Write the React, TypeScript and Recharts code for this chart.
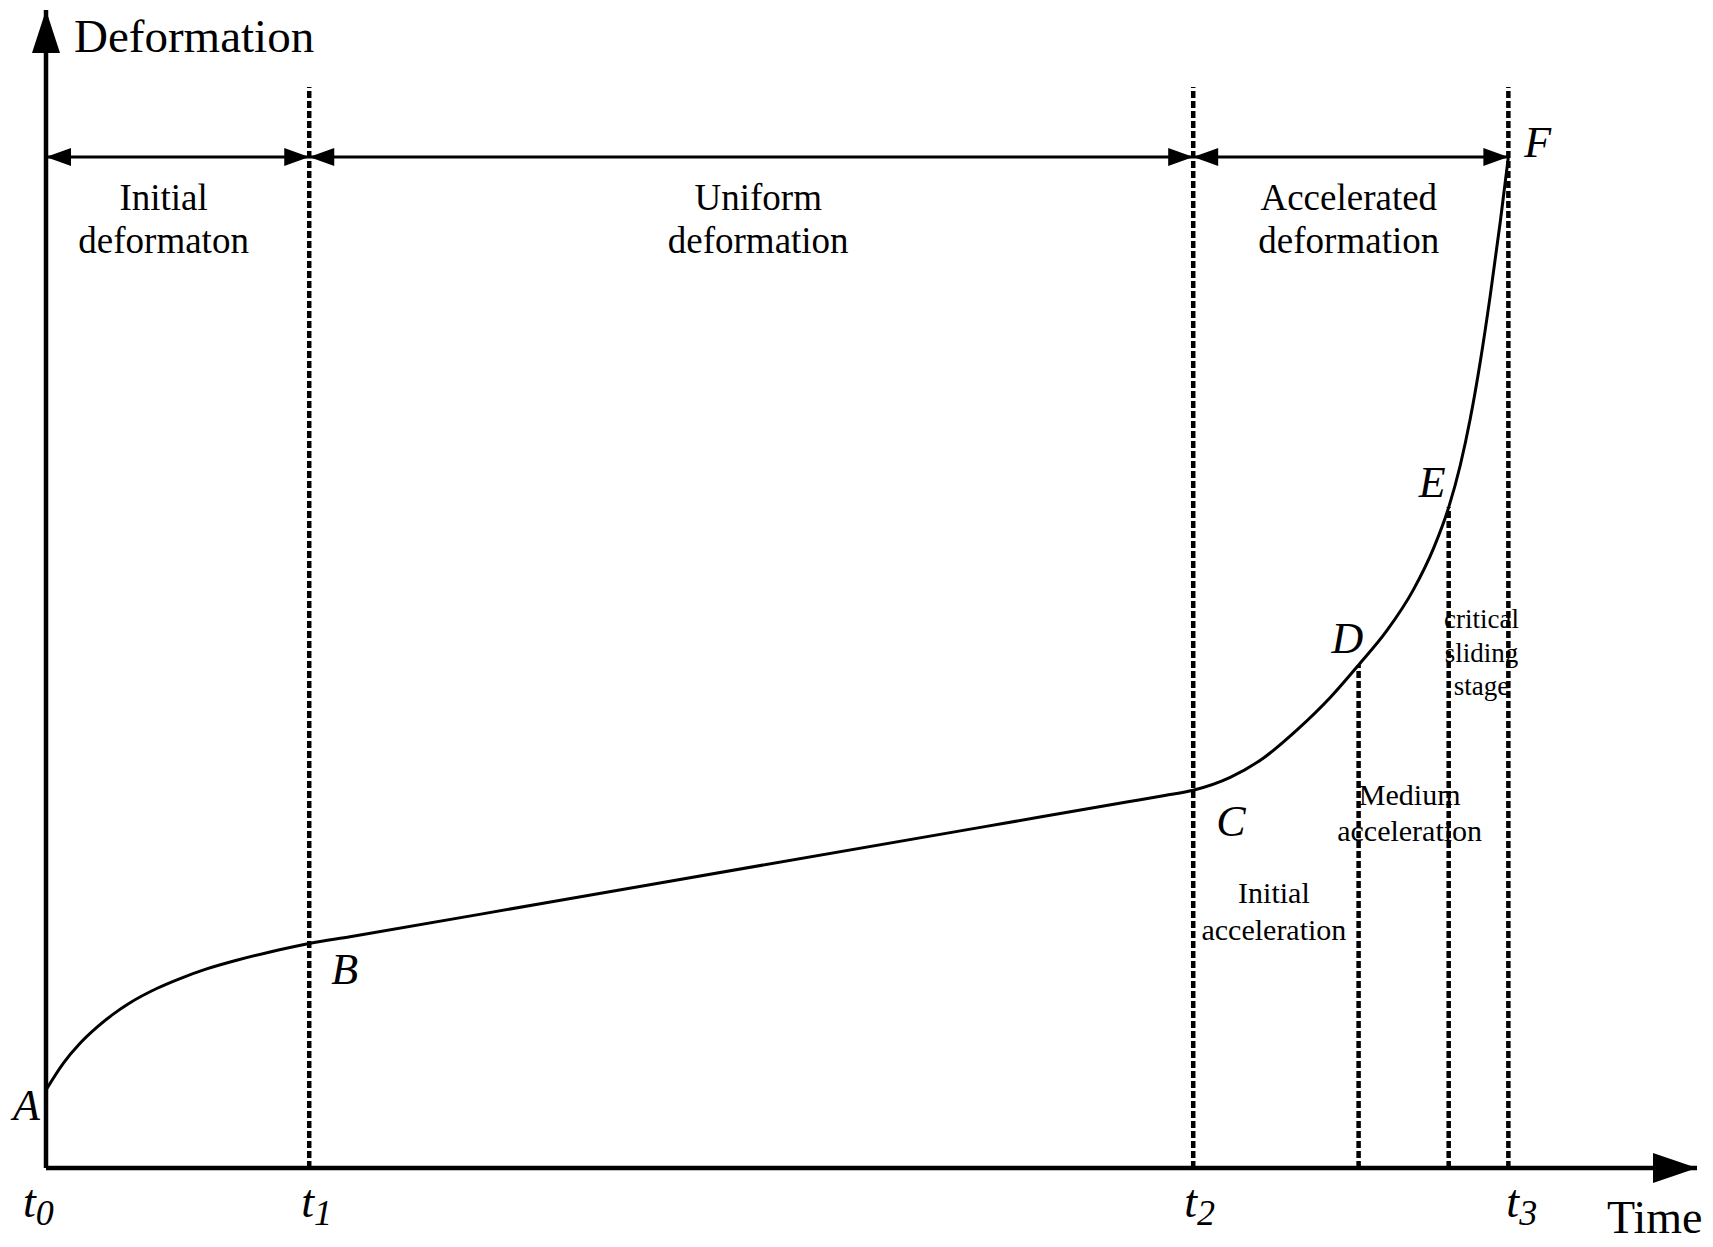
import React from 'react';
import { LineChart, Line, XAxis, YAxis, ReferenceLine, ReferenceDot } from 'recharts';

// ---- data (time in arbitrary units, t3 = 100; deformation in arbitrary units) ----
const timeValues = [
  0, 1.18, 2.33, 3.47, 4.6, 5.75, 7.57, 9.17, 10.99, 13.04, 15.32, 18.0, 20.79,
  34.2, 64.1, 74.0, 76.5, 78.45, 80.98, 83.26, 85.55, 87.82, 89.76, 91.7, 93.52, 94.89,
  95.92, 96.72, 97.4, 98.09, 98.77, 99.45, 100,
];
const deformationValues = [
  6.74, 9.04, 10.77, 12.14, 13.29, 14.27, 15.5, 16.36, 17.19, 17.94, 18.66, 19.39, 19.97,
  22.91, 29.46, 31.62, 32.17, 32.62, 33.73, 35.41, 37.83, 40.63, 43.44, 46.42, 49.97, 53.53,
  57.05, 60.73, 64.74, 69.71, 75.42, 81.74, 87.3,
];
const stageBoundaries = [0, 18, 78.45, 100];
const stageTickLabels = ['0', '1', '2', '3'];
const accelBoundaries = [78.45, 89.76, 95.92, 100];
const pointNames = ['A', 'B', 'C', 'D', 'E', 'F'];
const pointTimes = [0, 18, 78.45, 89.76, 95.92, 100];
const pointDeformations = [6.74, 19.39, 32.62, 43.44, 57.05, 87.3];
const stageNames = [
  ['Initial', 'deformaton'],
  ['Uniform', 'deformation'],
  ['Accelerated', 'deformation'],
];
const accelStageNames = [
  ['Initial', 'acceleration'],
  ['Medium', 'acceleration'],
  ['critical', 'sliding', 'stage'],
];
const TIME_MAX = 112.9;
const DEF_MAX = 100;
const BOUNDARY_TOP = 93.35;
const SPAN_LEVEL = 87.3;

const curveData = timeValues.map((t, i) => ({ time: t, deformation: deformationValues[i] }));

// ---- styling ----
const FONT = '"Liberation Serif", "Times New Roman", serif';
const tickDx = [-23, -8, -9, -2];
const pointLabelOffsets = [
  [-33, 30], [22, 41], [23, 46], [-27, -12], [-30, -10], [16, 0],
];
const stageLabelDx = [-14, 7, -2];
const accelLabelStyle = [
  { dx: -2, dy: -265, lh: 37, size: 30 },
  { dx: 6, dy: -363, lh: 36, size: 30 },
  { dx: 3, dy: -540, lh: 33.5, size: 27 },
];

const textShape = (
  lines: string[],
  dx: number,
  dy: number,
  size: number,
  lh: number,
  italic = false,
  anchor: 'start' | 'middle' | 'end' = 'start'
) => (props: any) => {
  const { cx, cy } = props;
  if (cx == null || cy == null) return <g />;
  return (
    <text
      x={cx + dx}
      y={cy + dy}
      fontSize={size}
      fontFamily={FONT}
      fontStyle={italic ? 'italic' : 'normal'}
      textAnchor={anchor}
      fill="#000"
    >
      {lines.map((l, i) => (
        <tspan key={i} x={cx + dx} dy={i === 0 ? 0 : lh}>
          {l}
        </tspan>
      ))}
    </text>
  );
};

const arrowHead = (dir: 'left' | 'right' | 'up', len: number, half: number) => (props: any) => {
  const { cx, cy } = props;
  if (cx == null || cy == null) return <g />;
  let pts = '';
  if (dir === 'left') pts = `${cx},${cy} ${cx + len},${cy - half} ${cx + len},${cy + half}`;
  if (dir === 'right') pts = `${cx},${cy} ${cx - len},${cy - half} ${cx - len},${cy + half}`;
  if (dir === 'up') pts = `${cx},${cy} ${cx - half},${cy + len} ${cx + half},${cy + len}`;
  return <polygon points={pts} fill="#000" />;
};

const TimeTick = (props: any) => {
  const { x, y, payload } = props;
  const idx = stageBoundaries.indexOf(payload.value);
  if (idx < 0) return <g />;
  return (
    <text x={x + tickDx[idx]} y={y + 49} fontFamily={FONT} fontStyle="italic" fill="#000">
      <tspan fontSize={46}>t</tspan>
      <tspan fontSize={36} dy={8}>{stageTickLabels[idx]}</tspan>
    </text>
  );
};

export default function App() {
  return (
    <div style={{ position: 'absolute', left: 0, top: 0, width: 1713, height: 1247, background: '#fff' }}>
      <LineChart
        width={1713}
        height={1247}
        data={curveData}
        margin={{ top: 10, right: 16, left: 46, bottom: 4 }}
      >
        <XAxis
          type="number"
          dataKey="time"
          domain={[0, TIME_MAX]}
          ticks={stageBoundaries}
          interval={0}
          tickLine={false}
          tickSize={0}
          tickMargin={0}
          height={75}
          axisLine={{ stroke: '#000', strokeWidth: 4.5 }}
          tick={(p: any) => <TimeTick {...p} />}
          allowDataOverflow
        />
        <YAxis type="number" domain={[0, DEF_MAX]} hide allowDataOverflow />

        {/* y axis line */}
        <ReferenceLine x={0} stroke="#000" strokeWidth={4.5} ifOverflow="visible" />

        {/* stage boundaries */}
        {stageBoundaries.slice(1).map((t, i) => (
          <ReferenceLine
            key={'sb' + i}
            segment={[{ x: t, y: 0 }, { x: t, y: BOUNDARY_TOP }]}
            stroke="#000"
            strokeWidth={4.5}
            strokeDasharray="7 3"
            ifOverflow="visible"
          />
        ))}
        {/* acceleration sub-stage boundaries (D and E) */}
        {[3, 4].map((pi) => (
          <ReferenceLine
            key={'ab' + pi}
            segment={[{ x: pointTimes[pi], y: 0 }, { x: pointTimes[pi], y: pointDeformations[pi] }]}
            stroke="#000"
            strokeWidth={4.5}
            strokeDasharray="7 3"
            ifOverflow="visible"
          />
        ))}

        {/* span line */}
        <ReferenceLine
          segment={[{ x: stageBoundaries[0], y: SPAN_LEVEL }, { x: stageBoundaries[3], y: SPAN_LEVEL }]}
          stroke="#000"
          strokeWidth={3}
          ifOverflow="visible"
        />

        <Line
          type="monotone"
          dataKey="deformation"
          stroke="#000"
          strokeWidth={3}
          dot={false}
          activeDot={false}
          isAnimationActive={false}
        />

        {/* span arrowheads */}
        {stageBoundaries.map((t, i) => [
          i > 0 ? (
            <ReferenceDot key={'ar' + i} x={t} y={SPAN_LEVEL} r={0} ifOverflow="visible" shape={arrowHead('right', 25, 9)} />
          ) : null,
          i < stageBoundaries.length - 1 ? (
            <ReferenceDot key={'al' + i} x={t} y={SPAN_LEVEL} r={0} ifOverflow="visible" shape={arrowHead('left', 25, 9)} />
          ) : null,
        ])}

        {/* axis arrowheads */}
        <ReferenceDot x={0} y={DEF_MAX} r={0} ifOverflow="visible" shape={arrowHead('up', 43, 14)} />
        <ReferenceDot x={TIME_MAX} y={0} r={0} ifOverflow="visible" shape={arrowHead('right', 44, 15)} />

        {/* axis titles */}
        <ReferenceDot x={0} y={DEF_MAX} r={0} ifOverflow="visible" shape={textShape(['Deformation'], 28, 42, 47, 0)} />
        <ReferenceDot x={TIME_MAX} y={0} r={0} ifOverflow="visible" shape={textShape(['Time'], -90, 65, 46, 0)} />

        {/* stage labels */}
        {stageNames.map((lines, i) => (
          <ReferenceDot
            key={'sl' + i}
            x={(stageBoundaries[i] + stageBoundaries[i + 1]) / 2}
            y={SPAN_LEVEL}
            r={0}
            ifOverflow="visible"
            shape={textShape(lines, stageLabelDx[i], 53, 37, 43, false, 'middle')}
          />
        ))}

        {/* acceleration sub-stage labels */}
        {accelStageNames.map((lines, i) => (
          <ReferenceDot
            key={'asl' + i}
            x={(accelBoundaries[i] + accelBoundaries[i + 1]) / 2}
            y={0}
            r={0}
            ifOverflow="visible"
            shape={textShape(
              lines,
              accelLabelStyle[i].dx,
              accelLabelStyle[i].dy,
              accelLabelStyle[i].size,
              accelLabelStyle[i].lh,
              false,
              'middle'
            )}
          />
        ))}

        {/* key point labels */}
        {pointNames.map((n, i) => (
          <ReferenceDot
            key={'pl' + i}
            x={pointTimes[i]}
            y={pointDeformations[i]}
            r={0}
            ifOverflow="visible"
            shape={textShape([n], pointLabelOffsets[i][0], pointLabelOffsets[i][1], 44, 0, true)}
          />
        ))}
      </LineChart>
    </div>
  );
}
